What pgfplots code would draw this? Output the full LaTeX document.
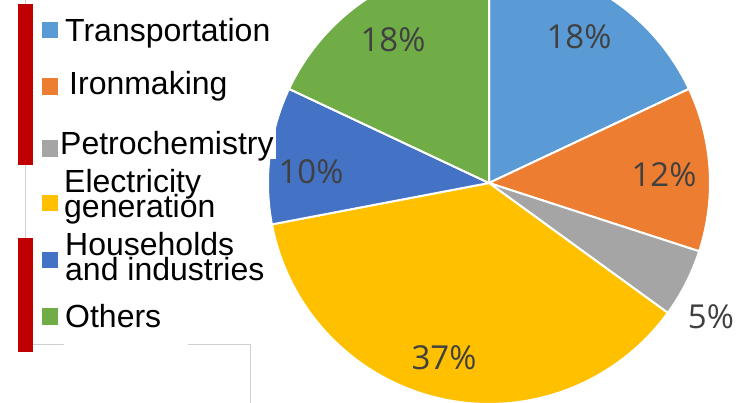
\documentclass[border=0pt]{standalone}
\usepackage{pgfplots}
\pgfplotsset{compat=1.18}
\usepackage{fontspec}
\setmainfont{Liberation Sans}
\newfontfamily\pctfont{Open Sans}
\definecolor{c1}{HTML}{5B9BD5}
\definecolor{c2}{HTML}{ED7D31}
\definecolor{c3}{HTML}{A5A5A5}
\definecolor{c4}{HTML}{FFC000}
\definecolor{c5}{HTML}{4472C4}
\definecolor{c6}{HTML}{70AD47}
\definecolor{pct}{HTML}{404040}
\definecolor{redbar}{HTML}{C00000}
\definecolor{artline}{HTML}{D0D0D0}
\tikzset{
  pctlab/.style={font=\pctfont\fontsize{33}{36}\selectfont, text=pct, inner sep=0pt},
  leglab/.style={font=\fontsize{32}{34}\selectfont, text=black, inner sep=0pt, anchor=base west},
  leg2/.style={font={\fontsize{32}{25}\selectfont\lineskiplimit=-100pt\lineskip=0pt},
    text=black, inner sep=0pt, anchor=north west, align=left},
}
% slice: start (cumulative %), value (%), colour
\newcommand{\slice}[3]{%
  \pgfmathsetmacro{\angA}{90-3.6*(#1+#2)}%
  \pgfmathsetmacro{\angB}{90-3.6*#1}%
  \addplot[draw=white, line width=2pt, line join=round, fill=#3,
    domain=\angA:\angB, samples=90, variable=\t]
    ({489+221*cos(t)},{-183+221*sin(t)}) -- (axis cs:489,-183) -- cycle;
}
\begin{document}
\begin{tikzpicture}
\begin{axis}[
  at={(0,0)}, anchor=south west,
  scale only axis, width=745pt, height=403pt,
  xmin=0, xmax=745, ymin=-403, ymax=0,
  hide axis, clip=true,
]
% data: Transportation 18, Ironmaking 12, Petrochemistry 5,
% Electricity generation 37, Households and industries 10, Others 18
\slice{0}{18}{c1}
\slice{18}{12}{c2}
\slice{30}{5}{c3}
\slice{35}{37}{c4}
\slice{72}{10}{c5}
\slice{82}{18}{c6}

% percentage labels
\node[pctlab] at (axis cs:579,-37) {18\%};
\node[pctlab] at (axis cs:664,-175) {12\%};
\node[pctlab] at (axis cs:711,-317) {5\%};
\node[pctlab] at (axis cs:444,-358) {37\%};
\node[pctlab] at (axis cs:311,-172) {10\%};
\node[pctlab] at (axis cs:393,-40) {18\%};

% white text box overlapping pie edge
\fill[white] (axis cs:180,-128) rectangle (axis cs:276,-159);

% artefact lines of the source
\draw[artline, line width=1pt] (axis cs:25,0) -- (axis cs:25,-240);
\draw[artline, line width=1pt] (axis cs:33,-345) -- (axis cs:64,-345);
\draw[artline, line width=1pt] (axis cs:188,-345) -- (axis cs:250,-345) -- (axis cs:250,-403);
\fill[redbar] (axis cs:18,-4) rectangle (axis cs:33,-165);
\fill[redbar] (axis cs:18,-238) rectangle (axis cs:33,-352);

% legend
\fill[c1] (axis cs:42,-22) rectangle (axis cs:58,-38);
\fill[c2] (axis cs:42,-78) rectangle (axis cs:58,-95);
\fill[c3] (axis cs:42,-140) rectangle (axis cs:58,-157);
\fill[c4] (axis cs:42,-195) rectangle (axis cs:58,-211);
\fill[c5] (axis cs:42,-252) rectangle (axis cs:58,-268);
\fill[c6] (axis cs:42,-308) rectangle (axis cs:58,-325);
\node[leglab] at (axis cs:65,-42) {Transportation};
\node[leglab] at (axis cs:69,-95) {Ironmaking};
\node[leglab] at (axis cs:60,-155) {Petrochemistry};
\node[leg2] at (axis cs:64,-169) {Electricity\\generation};
\node[leg2] at (axis cs:65,-232) {Households\\and industries};
\node[leglab] at (axis cs:65,-328) {Others};
\end{axis}
\pgfresetboundingbox
\useasboundingbox (0,0) rectangle (745pt,403pt);
\end{tikzpicture}
\end{document}
